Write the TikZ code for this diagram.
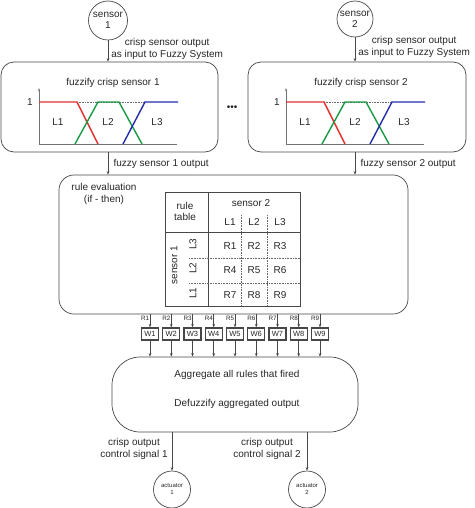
\documentclass[tikz,border=0pt]{standalone}
\usepackage{fontspec}
\setmainfont{Liberation Sans}
\usepackage{xcolor}
\usepackage{tikz}
\usetikzlibrary{arrows.meta,positioning}

\definecolor{lineg}{gray}{0.28}
\definecolor{mfred}{RGB}{228,45,45}
\definecolor{mfgreen}{RGB}{25,155,70}
\definecolor{mfblue}{RGB}{35,45,170}

\begin{document}
\begin{tikzpicture}[x=1pt, y=-1pt,
  every node/.style={font=\fontsize{10}{12}\selectfont, text=black!85},
  sensor/.style={circle, draw=lineg, line width=0.7pt, inner sep=0pt, align=center, font=\fontsize{10}{11}\selectfont},
  actuator/.style={circle, draw=lineg, line width=0.7pt, inner sep=0pt, minimum size=37pt, align=center, font=\fontsize{6}{7}\selectfont},
  fuzzbox/.style={rectangle, draw=lineg, line width=0.7pt, rounded corners=13pt, minimum height=90pt, inner sep=0pt},
  rulebox/.style={rectangle, draw=lineg, line width=0.7pt, rounded corners=15pt, minimum width=349pt, minimum height=139pt, inner sep=0pt},
  aggbox/.style={rectangle, draw=lineg, line width=0.7pt, rounded corners=28pt, minimum width=246pt, minimum height=75pt, inner sep=0pt},
  wbox/.style={rectangle, draw=lineg, line width=1.2pt, minimum width=17pt, minimum height=12pt, inner sep=0pt, font=\fontsize{7.5}{8}\selectfont},
  lbl/.style={align=center, inner sep=1pt},
  rlbl/.style={font=\fontsize{6.3}{7}\selectfont, inner sep=0.5pt},
  arrow/.style={-{Stealth[length=3.5pt, width=2.6pt]}, line width=0.6pt, draw=lineg},
  axis/.style={line width=0.6pt, draw=black!55},
  mf/.style={line width=1.4pt},
  tbl/.style={line width=0.8pt, draw=lineg},
  tbldot/.style={line width=0.6pt, draw=black!60, densely dotted}
]
\useasboundingbox (0,0) rectangle (474,508);

% sensors and fuzzification
\node[sensor, minimum size=39pt] (sensor1) at (108,20.5) {sensor\\1};
\node[sensor, minimum size=36pt] (sensor2) at (355,19) {sensor\\2};

\node[fuzzbox, minimum width=217pt] (fuzz1) at (109.5,107) {};
\node[fuzzbox, minimum width=218pt] (fuzz2) at (357,107) {};
\node (title1) at (113,83) {fuzzify crisp sensor 1};
\node (title2) at (361,83) {fuzzify crisp sensor 2};
\node[inner sep=0pt] (dots) at (232,108) {\textbullet\textbullet\textbullet};

\draw[arrow] (sensor1.south) -- (sensor1.south |- fuzz1.north)
  node[lbl, midway, right=2pt, yshift=2.5pt] (in1) {crisp sensor output\\as input to Fuzzy System};
\draw[arrow] (sensor2.south) -- (sensor2.south |- fuzz2.north)
  node[lbl, midway, right=2pt, yshift=2.5pt] (in2) {crisp sensor output\\as input to Fuzzy System};

% membership functions
\foreach \px/\n in {39/1, 286/2} {
  \begin{scope}[shift={(\px,0)}]
    \draw[axis, -{Stealth[length=3pt, width=2pt]}] (0,144) -- (0,88);
    \draw[axis] (0,144) -- (138,144);
    \draw[tbldot] (38,102) -- (106,102);
    \draw[mf, mfred] (0,102) -- (38,102) -- (59,144);
    \draw[mf, mfgreen] (36,144) -- (59,102) -- (80,102) -- (103,144);
    \draw[mf, mfblue] (84,144) -- (106,102) -- (139,102);
    \node (one\n) at (-9,102) {1};
    \node (la\n) at (19,122) {L1};
    \node (lb\n) at (69,122) {L2};
    \node (lc\n) at (118,122) {L3};
  \end{scope}
}

% rule evaluation
\node[rulebox] (rules) at (233.5,244.5) {};
\node[lbl] (ruletxt) at (104,194) {rule evaluation\\(if - then)};

\draw[arrow] (fuzz1.south -| sensor1) -- (rules.north -| sensor1)
  node[midway, right=2pt] (out1) {fuzzy sensor 1 output};
\draw[arrow] (fuzz2.south -| sensor2) -- (rules.north -| sensor2)
  node[midway, right=2pt] (out2) {fuzzy sensor 2 output};

% rule table
\draw[tbl] (165,192) rectangle (300,306);
\draw[tbl] (208,192) -- (208,306);
\draw[tbl] (165,232) -- (300,232);
\draw[tbldot] (241,215) -- (241,306);
\draw[tbldot] (267,215) -- (267,306);
\draw[tbldot] (189,258) -- (300,258);
\draw[tbldot] (189,283) -- (300,283);

\node[lbl, font=\fontsize{10}{11}\selectfont] (ruletab) at (185,211.5) {rule\\table};
\node (s2head) at (251,203) {sensor 2};
\node[rotate=90] (s1head) at (174,265) {sensor 1};
\foreach \c/\cx in {1/230, 2/254, 3/280} {
  \node (col\c) at (\cx,222) {L\c};
}
\foreach \r/\ry/\lv in {0/246/3, 1/270/2, 2/295/1} {
  \node[rotate=90] (row\lv) at (193,\ry-2) {L\lv};
  \foreach \c/\cx in {0/230, 1/254, 2/280} {
    \pgfmathtruncatemacro{\k}{3*\r+\c+1}
    \node (r\k) at (\cx,\ry) {R\k};
  }
}

% weights and aggregation
\node[aggbox] (agg) at (235,394.5) {};
\node (aggtxt) at (237,375) {Aggregate all rules that fired};
\node (deftxt) at (237,404) {Defuzzify aggregated output};

\foreach \i in {1,...,9} {
  \node[wbox] (w\i) at ({150+21.25*(\i-1)},334) {W\i};
  \draw[arrow] (w\i.north |- rules.south) -- (w\i.north)
    node[rlbl, pos=0.3, left] (rl\i) {R\i};
  \draw[arrow] (w\i.south) -- (w\i.south |- agg.north);
}

% actuators
\node[actuator] (act1) at (172,489.5) {actuator\\1};
\node[actuator] (act2) at (307,489.5) {actuator\\2};

\draw[arrow] (act1.north |- agg.south) -- (act1.north);
\draw[arrow] (act2.north |- agg.south) -- (act2.north);
\node[lbl] (ctl1) at (134,449) {crisp output\\control signal 1};
\node[lbl] (ctl2) at (267,449) {crisp output\\control signal 2};

\end{tikzpicture}
\end{document}
